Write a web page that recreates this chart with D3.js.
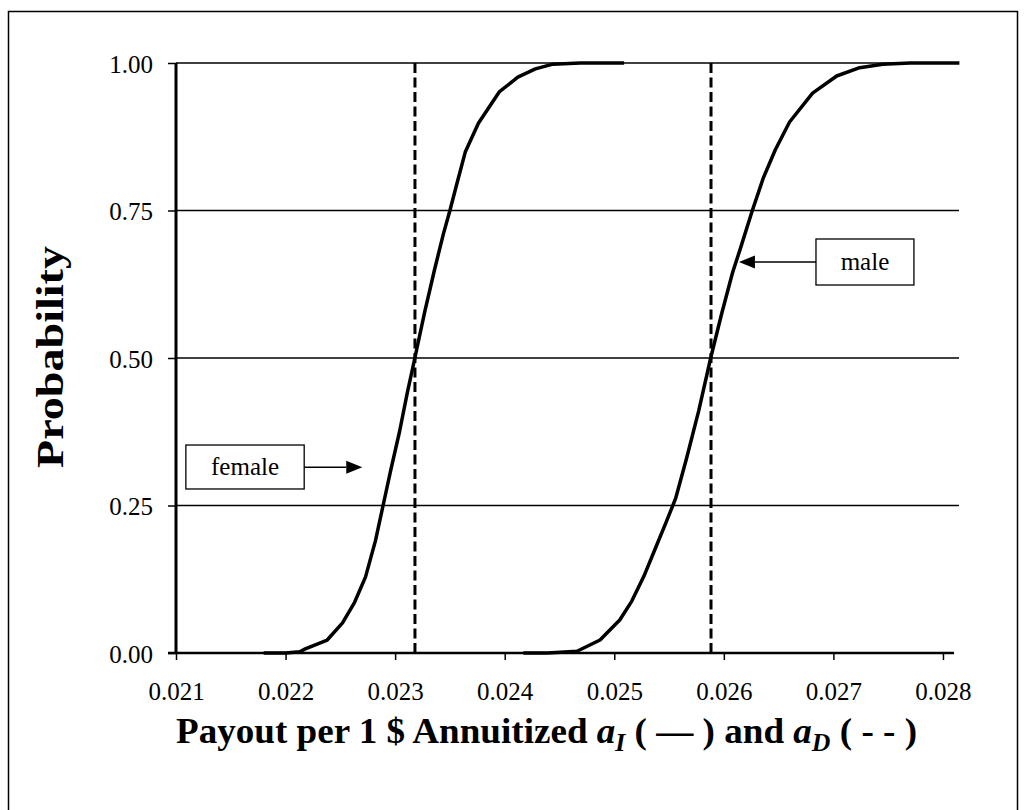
<!DOCTYPE html>
<html><head><meta charset="utf-8">
<script src="https://cdn.jsdelivr.net/npm/d3@7"></script>
<style>body{margin:0;background:#fff} svg{display:block} text{font-family:"Liberation Serif","Times New Roman",serif;fill:#000}</style>
</head><body><svg id="c" width="1027" height="810"></svg>
<script>
// ---- data ----
const femaleX = [0.02180,0.02200,0.02213,0.02218,0.02238,0.02252,0.02263,0.02273,0.02282,0.02289,0.02296,0.02304,0.02311,0.02318,0.02327,0.02336,0.02344,0.02350,0.02357,0.02364,0.02376,0.02395,0.02412,0.02428,0.02444,0.02469,0.02509];
const femaleP = [0.000,0.000,0.002,0.007,0.022,0.051,0.086,0.129,0.190,0.250,0.310,0.375,0.440,0.500,0.578,0.650,0.710,0.750,0.800,0.849,0.898,0.951,0.976,0.990,0.998,1.000,1.000];
const maleX = [0.02417,0.02439,0.02466,0.02487,0.02505,0.02516,0.02527,0.02537,0.02547,0.02556,0.02566,0.02577,0.02588,0.02598,0.02608,0.02615,0.02626,0.02636,0.02647,0.02660,0.02681,0.02703,0.02724,0.02745,0.02770,0.02815];
const maleP = [0.000,0.000,0.003,0.022,0.056,0.088,0.130,0.175,0.220,0.262,0.330,0.410,0.500,0.575,0.645,0.685,0.750,0.805,0.853,0.900,0.949,0.978,0.992,0.998,1.000,1.000];
const dashedX = [0.023181, 0.025883];   // a_D values (female, male)
const xTicks = [0.021,0.022,0.023,0.024,0.025,0.026,0.027,0.028];
const yTicks = [0,0.25,0.5,0.75,1];
const seriesNames = ["female","male"];

// ---- layout ----
const svg = d3.select("#c");
const x = d3.scaleLinear().domain([0.021, 0.02815]).range([176, 959.4]);
const y = d3.scaleLinear().domain([0, 1]).range([653, 63]);

svg.append("rect").attr("x",8.5).attr("y",11.5).attr("width",1009).attr("height",820)
  .attr("fill","none").attr("stroke","#000").attr("stroke-width",1.5);

// gridlines
svg.append("g").selectAll("line").data(yTicks.filter(d=>d>0)).join("line")
  .attr("x1",176).attr("x2",959).attr("y1",d=>y(d)).attr("y2",d=>y(d))
  .attr("stroke","#000").attr("stroke-width",1.3);

// y axis
const gy = svg.append("g").attr("transform","translate(176,0)")
  .call(d3.axisLeft(y).tickValues(yTicks).tickFormat(d3.format(".2f")).tickSize(8).tickPadding(15));
gy.select(".domain").remove();
gy.selectAll(".tick line").attr("stroke","#000").attr("stroke-width",1.5);
gy.selectAll(".tick text").attr("font-size",25).attr("dy","0.36em").style("font-family","Liberation Serif");

// x axis
const gx = svg.append("g").attr("transform","translate(0,653)")
  .call(d3.axisBottom(x).tickValues(xTicks).tickFormat(d3.format(".3f")).tickSize(7).tickPadding(22));
gx.select(".domain").remove();
gx.selectAll(".tick line").attr("stroke","#000").attr("stroke-width",1.5);
gx.selectAll(".tick text").attr("font-size",25).style("font-family","Liberation Serif");

svg.append("line").attr("x1",168).attr("x2",954).attr("y1",653).attr("y2",653).attr("stroke","#000").attr("stroke-width",2.5);
svg.append("line").attr("x1",176).attr("x2",176).attr("y1",63).attr("y2",654).attr("stroke","#000").attr("stroke-width",3);

// dashed a_D lines
svg.append("g").selectAll("line").data(dashedX).join("line")
  .attr("x1",d=>x(d)).attr("x2",d=>x(d)).attr("y1",y(0)).attr("y2",y(1))
  .attr("stroke","#000").attr("stroke-width",3).attr("stroke-dasharray","10,4.5");

// curves
const line = d3.line().x(d=>x(d[0])).y(d=>y(d[1]));
[[femaleX,femaleP],[maleX,maleP]].forEach(([xs,ps])=>{
  svg.append("path").datum(xs.map((v,i)=>[v,ps[i]])).attr("d",line)
    .attr("fill","none").attr("stroke","#000").attr("stroke-width",3.5)
    .attr("stroke-linejoin","round");
});

// annotations (data coords)
const notes = [
  {label:seriesNames[0], box:[0.02109,0.02217,0.3525,0.278], tip:[0.02270,0.315], from:"right"},
  {label:seriesNames[1], box:[0.026841,0.027735,0.7017,0.6237], tip:[0.026138,0.6627], from:"left"}
];
notes.forEach(n=>{
  const x0=x(n.box[0]), x1=x(n.box[1]), y0=y(n.box[2]), y1=y(n.box[3]);
  svg.append("rect").attr("x",x0).attr("y",y0).attr("width",x1-x0).attr("height",y1-y0)
    .attr("fill","#fff").attr("stroke","#000").attr("stroke-width",1.3);
  svg.append("text").attr("x",(x0+x1)/2).attr("y",(y0+y1)/2+8).attr("text-anchor","middle")
    .attr("font-size",25).text(n.label);
  const tx=x(n.tip[0]), ty=y(n.tip[1]);
  const sx = n.from==="right" ? x1 : x0;
  const dir = Math.sign(tx - sx);
  const ah = 16, aw = 6.5;
  svg.append("line").attr("x1",sx).attr("x2",tx - dir*ah).attr("y1",ty).attr("y2",ty)
    .attr("stroke","#000").attr("stroke-width",1.5);
  svg.append("path").attr("d",`M${tx},${ty}L${tx-dir*ah},${ty-aw}L${tx-dir*ah},${ty+aw}Z`).attr("fill","#000");
});

// axis titles
svg.append("text").attr("transform","translate(63,357) rotate(-90)").attr("text-anchor","middle")
  .attr("font-size",38).attr("font-weight","bold")
  .attr("textLength",222).attr("lengthAdjust","spacingAndGlyphs").text("Probability");

const t = svg.append("text").attr("x",176).attr("y",743).attr("font-size",36).attr("font-weight","bold")
  .attr("textLength",741).attr("lengthAdjust","spacingAndGlyphs");
t.append("tspan").text("Payout per 1 $ Annuitized ");
t.append("tspan").attr("font-style","italic").text("a");
t.append("tspan").attr("font-style","italic").attr("font-size",25).attr("dy",8).text("I");
t.append("tspan").attr("dy",-8).text(" ( — ) and ");
t.append("tspan").attr("font-style","italic").text("a");
t.append("tspan").attr("font-style","italic").attr("font-size",25).attr("dy",8).text("D");
t.append("tspan").attr("dy",-8).text(" ( - - )");
</script></body></html>
